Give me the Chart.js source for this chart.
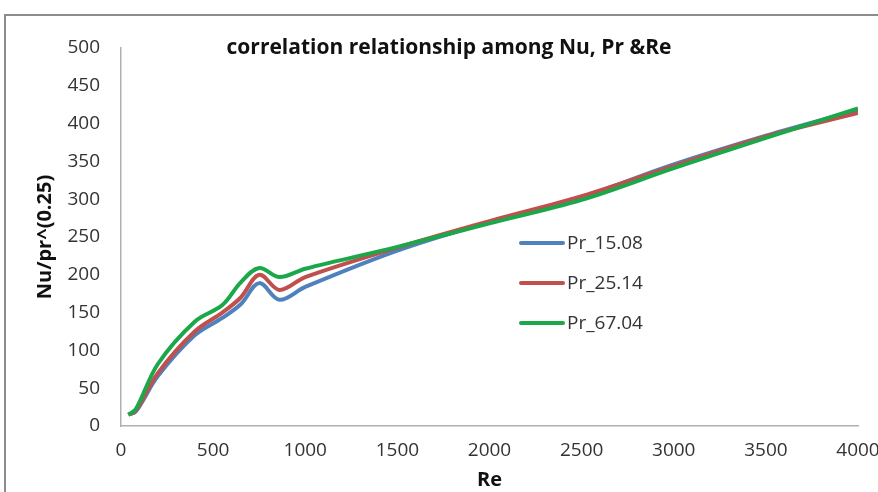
<!DOCTYPE html>
<html>
<head>
<meta charset="utf-8">
<title>Nu, Pr and Re</title>
<script src="https://cdn.jsdelivr.net/npm/chart.js@4.4.1/dist/chart.umd.min.js"></script>
<style>
  html, body { margin: 0; background: #fff; overflow: hidden; }
  #frame {
    position: absolute; left: 4px; top: 14px; width: 900px; height: 500px;
    border-left: 2px solid #8c8c8c; border-top: 2px solid #8c8c8c;
  }
  #wrap { position: absolute; left: 0; top: 0; width: 878px; height: 492px; }
</style>
</head>
<body>
<div id="frame"></div>
<div id="wrap"><canvas id="nuChart"></canvas></div>
<script>
/* --------- DATA --------- */
const reValues = [40, 80, 200, 400, 550, 650, 750, 860, 1000, 1500, 2000, 2500, 3000, 3500, 4000];
const nuPr1508 = [15, 19, 66, 120, 143, 161, 189, 167, 184, 232, 270, 303, 346, 384, 418];
const nuPr2514 = [15, 20, 70, 125, 150, 170, 200, 180, 197, 236, 271, 304, 344, 383, 414];
const nuPr6704 = [15, 22, 82, 138, 160, 190, 209, 197, 208, 237, 268, 299, 341, 381, 420];

const seriesNames = ["Pr_15.08", "Pr_25.14", "Pr_67.04"];
const seriesColors = ["#4f81bd", "#c0504d", "#1aa84a"];

const chartTitle = "correlation relationship among Nu, Pr &Re";
const xTitle = "Re";
const yTitle = "Nu/pr^(0.25)";

const FONT = "'Open Sans', sans-serif";

function toPoints(ys) {
  return reValues.map((x, i) => ({ x: x, y: ys[i] }));
}

/* --------- PLUGINS --------- */
const titlePlugin = {
  id: "chartTitle",
  afterDraw(chart) {
    const c = chart.ctx;
    c.save();
    c.font = "bold 21px " + FONT;
    c.fillStyle = "#111";
    c.textAlign = "center";
    c.textBaseline = "middle";
    c.fillText(chartTitle, 449, 48);
    c.restore();
  }
};

// legend sits inside the plot, one row per series
const insideLegend = {
  id: "insideLegend",
  afterDraw(chart) {
    const c = chart.ctx;
    c.save();
    c.font = "19px " + FONT;
    c.textBaseline = "middle";
    c.textAlign = "left";
    chart.data.datasets.forEach((ds, i) => {
      const y = 243 + i * 40;
      c.strokeStyle = ds.borderColor;
      c.lineWidth = 4;
      c.lineCap = "round";
      c.beginPath();
      c.moveTo(521, y);
      c.lineTo(563, y);
      c.stroke();
      c.fillStyle = "#333";
      c.fillText(ds.label, 567, y + 1);
    });
    c.restore();
  }
};

/* --------- CHART --------- */
Chart.defaults.font.family = FONT;
Chart.defaults.font.size = 19;
Chart.defaults.color = "#333";

const datasets = [nuPr1508, nuPr2514, nuPr6704].map((ys, i) => ({
  label: seriesNames[i],
  data: toPoints(ys),
  borderColor: seriesColors[i],
  backgroundColor: seriesColors[i],
  borderWidth: 4,
  pointRadius: 0,
  tension: 0.35,
  fill: false,
  order: 2 - i
}));

new Chart(document.getElementById("nuChart"), {
  type: "line",
  data: { datasets: datasets },
  options: {
    responsive: true,
    maintainAspectRatio: false,
    animation: false,
    layout: { padding: { top: 48, right: 20, left: 0, bottom: 0 } },
    plugins: {
      legend: { display: false },
      tooltip: { enabled: false }
    },
    scales: {
      x: {
        type: "linear",
        min: 0,
        max: 4000,
        ticks: {
          stepSize: 500, padding: 13, maxRotation: 0, autoSkip: false,
          callback: v => String(v)
        },
        grid: { drawOnChartArea: false, drawTicks: false },
        border: { display: true, color: "#b0b0b0", width: 1.5 },
        title: {
          display: true, text: xTitle, color: "#111",
          font: { weight: "bold", size: 20 },
          padding: { top: 0, bottom: 0 }
        },
        // last label runs off the edge, so don't reserve room for it
        afterFit(scale) {
          scale.height = 66;
          scale.paddingLeft = 0;
          scale.paddingRight = 0;
        }
      },
      y: {
        min: 0,
        max: 500,
        ticks: { stepSize: 50, padding: 21, callback: v => String(v) },
        grid: { drawOnChartArea: false, drawTicks: false },
        border: { display: true, color: "#b0b0b0", width: 1.5 },
        title: {
          display: true, text: yTitle, color: "#111",
          font: { weight: "bold", size: 20 },
          padding: { top: 33, bottom: 0 }
        },
        afterFit(scale) {
          scale.width = 121;
          scale.paddingTop = 0;
          scale.paddingBottom = 0;
        }
      }
    }
  },
  plugins: [titlePlugin, insideLegend]
});
</script>
</body>
</html>
